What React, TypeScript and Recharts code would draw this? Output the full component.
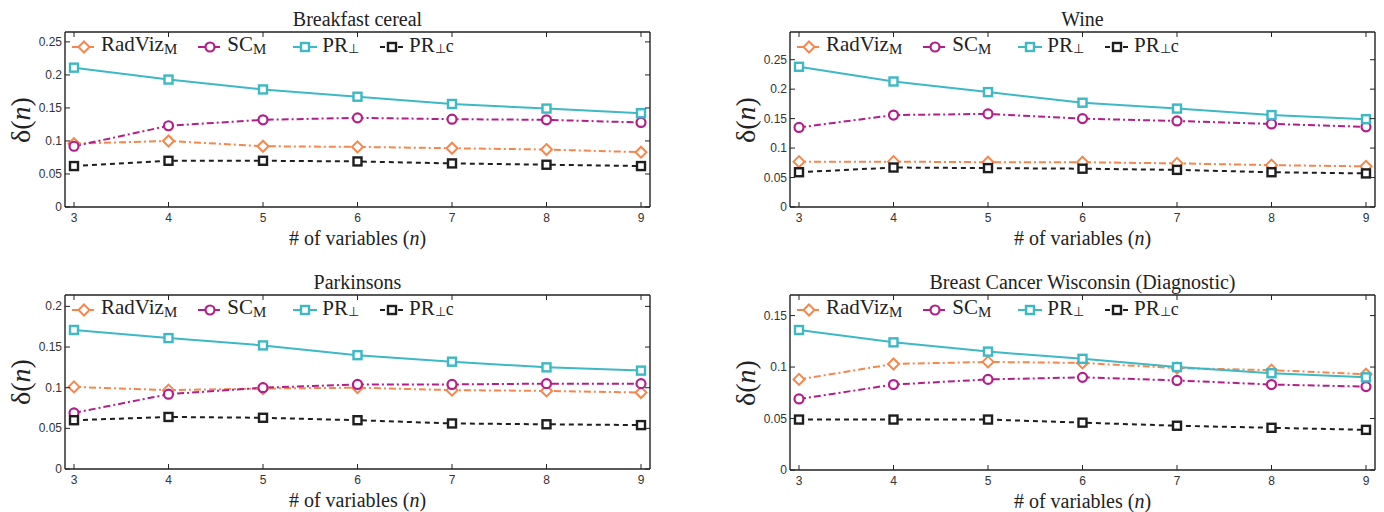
import React from 'react';
import { LineChart, Line, XAxis, YAxis, Legend } from 'recharts';

const nValues = [3, 4, 5, 6, 7, 8, 9];

const cerealRadViz = [0.096, 0.1, 0.092, 0.091, 0.089, 0.087, 0.083];
const cerealSC = [0.092, 0.123, 0.132, 0.135, 0.133, 0.132, 0.128];
const cerealPR = [0.211, 0.193, 0.178, 0.167, 0.156, 0.149, 0.142];
const cerealPRc = [0.062, 0.07, 0.07, 0.069, 0.066, 0.064, 0.062];

const wineRadViz = [0.077, 0.077, 0.076, 0.076, 0.074, 0.071, 0.069];
const wineSC = [0.135, 0.156, 0.158, 0.15, 0.146, 0.141, 0.136];
const winePR = [0.238, 0.213, 0.195, 0.177, 0.167, 0.156, 0.149];
const winePRc = [0.059, 0.067, 0.066, 0.065, 0.063, 0.059, 0.057];

const parkRadViz = [0.101, 0.097, 0.099, 0.1, 0.097, 0.096, 0.094];
const parkSC = [0.069, 0.092, 0.1, 0.104, 0.104, 0.105, 0.105];
const parkPR = [0.171, 0.161, 0.152, 0.14, 0.132, 0.125, 0.121];
const parkPRc = [0.06, 0.064, 0.063, 0.06, 0.056, 0.055, 0.054];

const breastRadViz = [0.088, 0.103, 0.105, 0.104, 0.099, 0.097, 0.093];
const breastSC = [0.069, 0.083, 0.088, 0.09, 0.087, 0.083, 0.081];
const breastPR = [0.136, 0.124, 0.115, 0.108, 0.1, 0.094, 0.09];
const breastPRc = [0.049, 0.049, 0.049, 0.046, 0.043, 0.041, 0.039];

const ticks25 = [0, 0.05, 0.1, 0.15, 0.2, 0.25];
const ticks20 = [0, 0.05, 0.1, 0.15, 0.2];
const ticks15 = [0, 0.05, 0.1, 0.15];

const SERIF = '"Liberation Serif", "Times New Roman", serif';
const SANS = '"Liberation Sans", Arial, sans-serif';
const AXIS = '#222';

const W = 692;
const H = 256;

const series = [
  { key: 'radviz', color: '#F5864C', dash: '7 3 2 3', shape: 'diamond', gap: 20, label: <>RadViz<sub style={{ fontSize: 15, verticalAlign: '-3px' }}>M</sub></> },
  { key: 'sc', color: '#B21E8A', dash: '7 3 2 3', shape: 'circle', gap: 26, label: <>SC<sub style={{ fontSize: 15, verticalAlign: '-3px' }}>M</sub></> },
  { key: 'pr', color: '#3DB8C5', dash: undefined, shape: 'square', gap: 20, label: <>PR<sub style={{ fontSize: 13, verticalAlign: '-1px' }}>⊥</sub></> },
  { key: 'prc', color: '#1E1E1E', dash: '5 4', shape: 'square', gap: 0, label: <>PR<sub style={{ fontSize: 13, verticalAlign: '-1px' }}>⊥</sub><span style={{ fontSize: 18 }}>c</span></> },
];

const makeRows = (r: number[], s: number[], p: number[], c: number[]) =>
  nValues.map((n, i) => ({ n, radviz: r[i], sc: s[i], pr: p[i], prc: c[i] }));

const Marker = ({ shape, cx, cy, color }: any) => {
  if (shape === 'diamond') {
    return <polygon points={`${cx},${cy - 5.5} ${cx + 5.5},${cy} ${cx},${cy + 5.5} ${cx - 5.5},${cy}`} fill="#fff" stroke={color} strokeWidth={2} />;
  }
  if (shape === 'circle') {
    return <circle cx={cx} cy={cy} r={4.5} fill="#fff" stroke={color} strokeWidth={2.2} />;
  }
  return <rect x={cx - 4} y={cy - 4} width={8} height={8} fill="#fff" stroke={color} strokeWidth={2.4} />;
};

const BottomTick = ({ x, y, payload }: any) => (
  <g>
    <line x1={x} x2={x} y1={y} y2={y - 5} stroke={AXIS} strokeWidth={1} />
    <text x={x} y={y + 15} textAnchor="middle" fontFamily={SANS} fontSize={12} fill="#333">{payload.value}</text>
  </g>
);

const TopTick = ({ x, y }: any) => <line x1={x} x2={x} y1={y} y2={y + 5} stroke={AXIS} strokeWidth={1} />;

const LeftTick = ({ x, y, payload }: any) => (
  <g>
    <line x1={x} x2={x + 5} y1={y} y2={y} stroke={AXIS} strokeWidth={1} />
    <text x={x - 3} y={y + 4} textAnchor="end" fontFamily={SANS} fontSize={12} fill="#333">{payload.value}</text>
  </g>
);

const RightTick = ({ x, y }: any) => <line x1={x} x2={x - 5} y1={y} y2={y} stroke={AXIS} strokeWidth={1} />;

const LegendContent = () => (
  <div style={{ display: 'flex', alignItems: 'center', fontFamily: SERIF, fontSize: 21, color: '#222', lineHeight: '24px', whiteSpace: 'nowrap' }}>
    {series.map((s) => (
      <div key={s.key} style={{ display: 'flex', alignItems: 'center', marginRight: s.gap }}>
        <svg width={26} height={14}>
          <line x1={1} x2={25} y1={7} y2={7} stroke={s.color} strokeWidth={2} strokeDasharray={s.dash} />
          <Marker shape={s.shape} cx={13} cy={7} color={s.color} />
        </svg>
        <span style={{ marginLeft: 4 }}>{s.label}</span>
      </div>
    ))}
  </div>
);

interface PanelProps {
  title: string;
  rows: any[];
  yMax: number;
  yTicks: number[];
  left: number;
  top: number;
  box: { top: number; right: number; bottom: number; left: number };
}

const Panel: React.FC<PanelProps> = ({ title, rows, yMax, yTicks, left, top, box }) => {
  const boxW = W - box.left - box.right;
  const boxH = H - box.top - box.bottom;
  // axes take 1px each, so the chart margins are one less than the box insets
  const margin = { top: box.top - 1, right: box.right - 1, bottom: box.bottom - 1, left: box.left - 1 };
  const axisLine = { stroke: AXIS, strokeWidth: 1.4 };
  return (
    <div style={{ position: 'absolute', left, top, width: W, height: H }}>
      <LineChart width={W} height={H} data={rows} margin={margin}>
        <XAxis dataKey="n" type="number" domain={[3, 9]} ticks={nValues} interval={0} padding={{ left: 9, right: 9 }}
          height={1} tickSize={0} tickMargin={0} tickLine={false} axisLine={axisLine} tick={<BottomTick />} />
        <XAxis xAxisId="top" orientation="top" dataKey="n" type="number" domain={[3, 9]} ticks={nValues} interval={0}
          padding={{ left: 9, right: 9 }} height={1} tickSize={0} tickMargin={0} tickLine={false} axisLine={axisLine} tick={<TopTick />} />
        <YAxis type="number" domain={[0, yMax]} ticks={yTicks} interval={0} allowDataOverflow width={1}
          tickSize={0} tickMargin={0} tickLine={false} axisLine={axisLine} tick={<LeftTick />} />
        <YAxis yAxisId="r" orientation="right" type="number" domain={[0, yMax]} ticks={yTicks} interval={0} allowDataOverflow
          width={1} tickSize={0} tickMargin={0} tickLine={false} axisLine={axisLine} tick={<RightTick />} />
        <Legend layout="horizontal" verticalAlign="middle" align="center" content={<LegendContent />}
          wrapperStyle={{ position: 'absolute', left: box.left + 6, top: box.top, width: 'auto' }} />
        {series.map((s) => (
          <Line key={s.key} dataKey={s.key} type="linear" stroke={s.color} strokeWidth={2} strokeDasharray={s.dash}
            isAnimationActive={false} activeDot={false}
            dot={(p: any) => <Marker key={`${s.key}-${p.index}`} shape={s.shape} cx={p.cx} cy={p.cy} color={s.color} />} />
        ))}
      </LineChart>
      <div style={{ position: 'absolute', left: box.left, width: boxW, top: box.top - 23, textAlign: 'center', fontFamily: SERIF, fontSize: 20, lineHeight: '20px', color: '#222' }}>
        {title}
      </div>
      <div style={{ position: 'absolute', left: box.left, width: boxW, top: box.top + boxH + 21, textAlign: 'center', fontFamily: SERIF, fontSize: 20, lineHeight: '20px', color: '#222' }}>
        # of variables (<i>n</i>)
      </div>
      <div style={{ position: 'absolute', left: box.left - 44 - 40, width: 80, top: box.top + boxH / 2 - 14, textAlign: 'center', fontFamily: SERIF, fontSize: 28, lineHeight: '28px', color: '#222', transform: 'rotate(-90deg)' }}>
        δ(<i>n</i>)
      </div>
    </div>
  );
};

const App: React.FC = () => (
  <div style={{ position: 'absolute', left: 0, top: 0, width: 1384, height: 512, background: '#fff' }}>
    <Panel title="Breakfast cereal" rows={makeRows(cerealRadViz, cerealSC, cerealPR, cerealPRc)} yMax={0.265} yTicks={ticks25}
      left={0} top={0} box={{ top: 32, right: 42, bottom: 49, left: 65 }} />
    <Panel title="Wine" rows={makeRows(wineRadViz, wineSC, winePR, winePRc)} yMax={0.297} yTicks={ticks25}
      left={692} top={0} box={{ top: 32, right: 9, bottom: 49, left: 98 }} />
    <Panel title="Parkinsons" rows={makeRows(parkRadViz, parkSC, parkPR, parkPRc)} yMax={0.214} yTicks={ticks20}
      left={0} top={256} box={{ top: 39, right: 42, bottom: 43, left: 65 }} />
    <Panel title="Breast Cancer Wisconsin (Diagnostic)" rows={makeRows(breastRadViz, breastSC, breastPR, breastPRc)} yMax={0.17} yTicks={ticks15}
      left={692} top={256} box={{ top: 39, right: 9, bottom: 42, left: 98 }} />
  </div>
);

export default App;
